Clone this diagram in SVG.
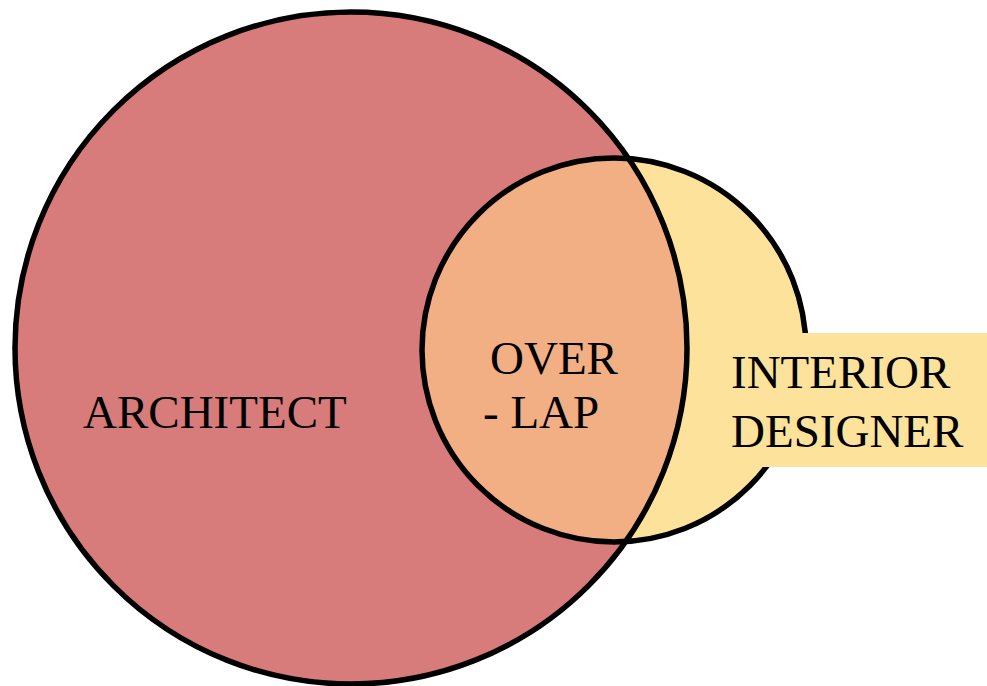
<svg xmlns="http://www.w3.org/2000/svg" width="987" height="686" viewBox="0 0 987 686">
<style>
.lbl{font-family:"Liberation Serif","Times New Roman",serif;font-size:47px;fill:#000}
.edge{fill:none;stroke:#000;stroke-width:5.5}
</style>
<defs>
<clipPath id="bigClip"><circle cx="351" cy="348" r="336"/></clipPath>
</defs>
<rect width="987" height="686" fill="#fff"/>
<g id="architect">
<circle cx="351" cy="348" r="336" fill="#D87B7B"/>
</g>
<g id="interior-designer">
<circle cx="614" cy="350" r="192" fill="#FDE29B"/>
</g>
<g id="overlap">
<circle cx="614" cy="350" r="192" fill="#F2AF84" clip-path="url(#bigClip)"/>
</g>
<g id="outlines">
<circle class="edge" cx="351" cy="348" r="336"/>
<circle class="edge" cx="614" cy="350" r="192"/>
</g>
<g id="label-box">
<rect x="712" y="333" width="275" height="134" fill="#FDE29B"/>
</g>
<g id="texts">
<text class="lbl" x="83" y="428">ARCHITECT</text>
<text class="lbl" x="490" y="374">OVER</text>
<text class="lbl" x="483" y="428">- LAP</text>
<text class="lbl" x="731" y="388">INTERIOR</text>
<text class="lbl" x="731" y="447">DESIGNER</text>
</g>
</svg>
